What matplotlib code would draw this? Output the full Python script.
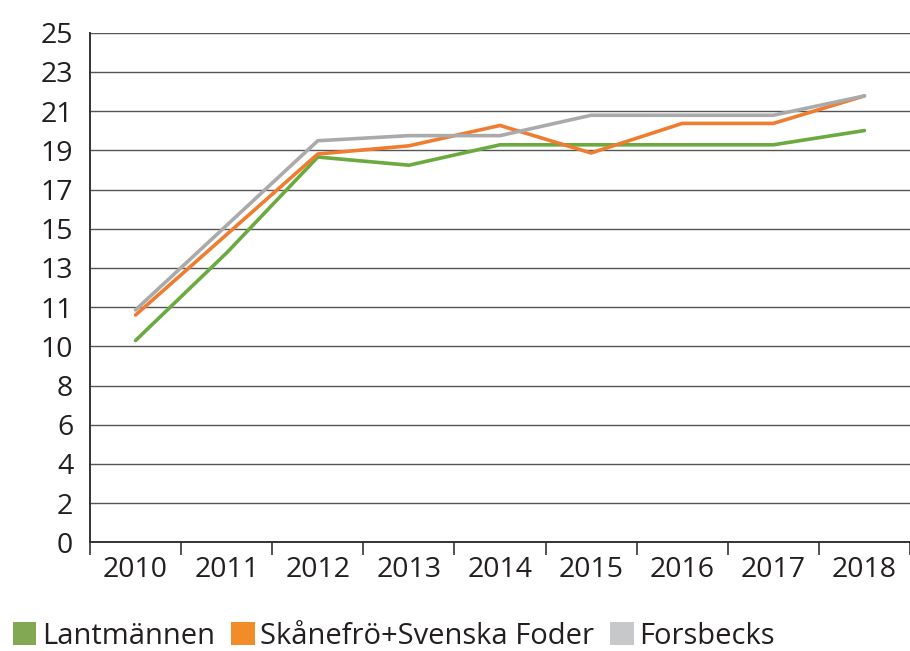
import matplotlib
matplotlib.use("Agg")
import matplotlib.pyplot as plt
from matplotlib.patches import Patch
import numpy as np

years = ["2010", "2011", "2012", "2013", "2014", "2015", "2016", "2017", "2018"]
lantmannen = [9.9, 14.2, 18.9, 18.5, 19.5, 19.5, 19.5, 19.5, 20.2]
skanefro = [11.15, 15.1, 19.05, 19.45, 20.45, 19.1, 20.55, 20.55, 21.9]
forsbecks = [11.4, 15.55, 19.7, 19.95, 19.95, 20.95, 20.95, 20.95, 21.9]
series_names = ["Lantmännen", "Skånefrö+Svenska Foder", "Forsbecks"]
ytick_labels = ["0", "2", "4", "6", "8", "10", "11", "13", "15", "17", "19", "21", "23", "25"]

line_colors = ["#6aaa3e", "#ee7d31", "#aaaaaa"]
patch_colors = ["#82a853", "#f28c28", "#c7c8ca"]

plt.rcParams["font.family"] = ["Open Sans", "DejaVu Sans"]

fig = plt.figure(figsize=(9.1, 6.51), dpi=100)
ax = fig.add_axes([90 / 910, 1 - 542.3 / 651, 820 / 910, (542.3 - 32.7) / 651])

x = np.arange(len(years))
for vals, c in zip([lantmannen, skanefro, forsbecks], line_colors):
    ax.plot(x, vals, color=c, lw=2.6, solid_capstyle="round", zorder=3)

ax.set_xlim(-0.5, len(years) - 0.5)
ax.set_ylim(0, 25)
yt = np.linspace(0, 25, len(ytick_labels))
ax.set_yticks(yt)
ax.set_yticklabels(ytick_labels)
for v in yt[1:]:
    ax.axhline(v, color="#555555", lw=1.0, zorder=1)

ax.set_xticks(x)
ax.set_xticklabels(years)
ax.set_xticks(np.arange(len(years) + 1) - 0.5, minor=True)
ax.tick_params(axis="x", which="major", length=0, pad=10, labelsize=20.5, colors="#231f20")
ax.tick_params(axis="x", which="minor", length=9.5, width=1.2, color="#333333", direction="out")
ax.tick_params(axis="y", length=0, pad=12, labelsize=20.5, colors="#231f20")

for s in ["top", "right"]:
    ax.spines[s].set_visible(False)
ax.spines["left"].set_color("#333333")
ax.spines["left"].set_linewidth(1.4)
ax.spines["bottom"].set_color("#333333")
ax.spines["bottom"].set_linewidth(1.4)

handles = [Patch(facecolor=c, edgecolor="none") for c in patch_colors]
fig.legend(handles, series_names, loc="center left", bbox_to_anchor=(13 / 910, 1 - 636 / 651),
           ncols=3, frameon=False, fontsize=21, handlelength=0.8, handleheight=0.8,
           handletextpad=0.2, columnspacing=0.55, borderaxespad=0, borderpad=0,
           labelcolor="#231f20")

fig.savefig("out.png", dpi=100)
